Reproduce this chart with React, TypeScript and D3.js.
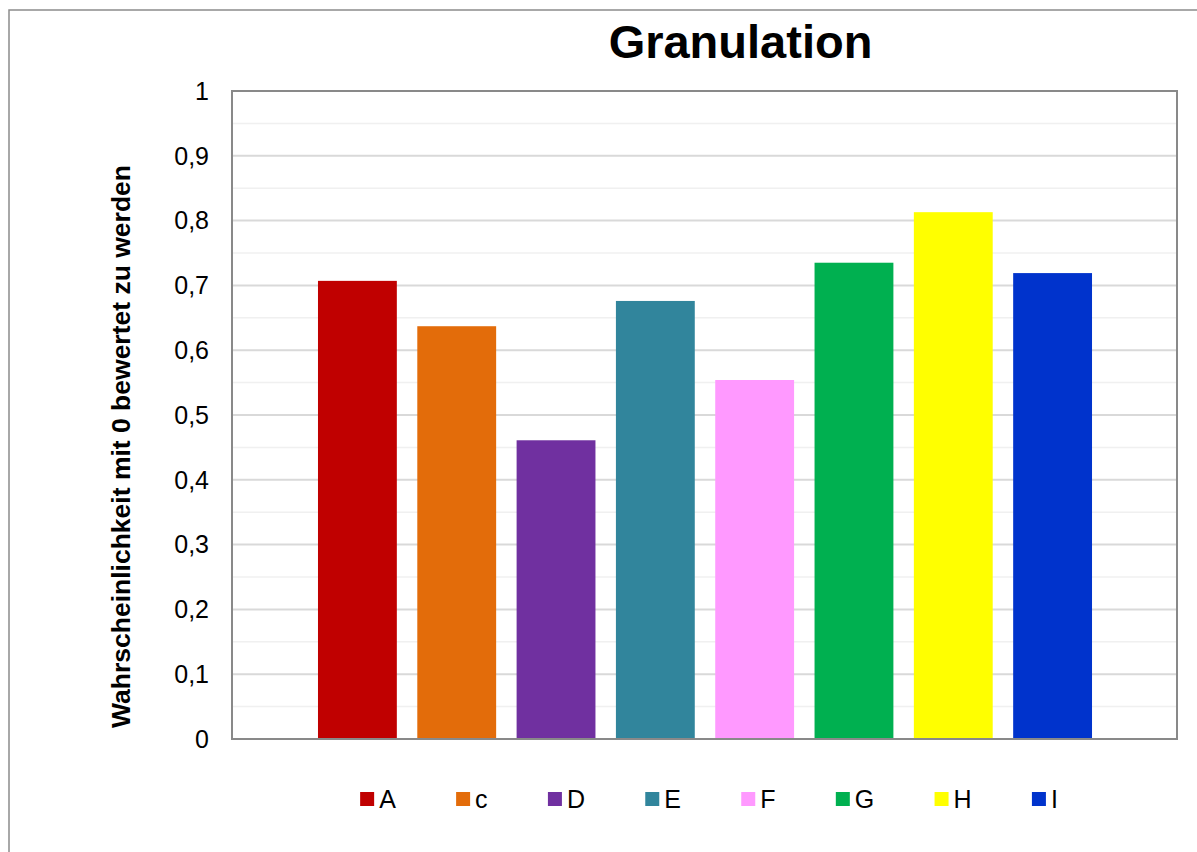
import React from "react";
import * as d3 from "d3";

const categories = ["A", "c", "D", "E", "F", "G", "H", "I"];
const values = [0.707, 0.637, 0.461, 0.676, 0.554, 0.735, 0.813, 0.719];
const colors = ["#C00000", "#E36C0A", "#7030A0", "#31859C", "#FF99FF", "#00B050", "#FFFF00", "#0033CC"];
const yTicks = [0, 0.1, 0.2, 0.3, 0.4, 0.5, 0.6, 0.7, 0.8, 0.9, 1];
const yMinorTicks = [0.05, 0.15, 0.25, 0.35, 0.45, 0.55, 0.65, 0.75, 0.85, 0.95];
const title = "Granulation";
const yTitle = "Wahrscheinlichkeit mit 0 bewertet zu werden";

const W = 1197;
const H = 852;
const plot = { left: 232, top: 91, right: 1177, bottom: 739 };
const FONT = "'Liberation Sans', Arial, Helvetica, sans-serif";

const deLocale = d3.formatLocale({ decimal: ",", thousands: ".", grouping: [3], currency: ["", " €"] });
const fmt = deLocale.format("~g");

function measure(text: string, font: string): number {
  if (typeof document === "undefined") return text.length * 14;
  const c = document.createElement("canvas");
  const ctx = c.getContext("2d");
  if (!ctx) return text.length * 14;
  ctx.font = font;
  return ctx.measureText(text).width;
}

export default function App() {
  const y = d3.scaleLinear().domain([0, 1]).range([plot.bottom, plot.top]);
  const x = d3
    .scaleBand<string>()
    .domain(categories)
    .range([307.75, 1102.25])
    .paddingInner(0.206)
    .paddingOuter(0.103);

  // legend layout
  const legendFont = `25px ${FONT}`;
  const sq = 14;
  const gapText = 5;
  const entrySpacing = 79.3;
  const widths = categories.map((c) => measure(c, legendFont));
  const starts: number[] = [];
  let acc = 0;
  widths.forEach((w) => {
    starts.push(acc);
    acc += w + entrySpacing;
  });
  const totalW = acc - entrySpacing + sq + gapText;
  const legendX0 = 709 - totalW / 2;
  const legendY = 799;

  return (
    <svg
      width={W}
      height={H}
      style={{ position: "absolute", left: 0, top: 0, background: "#fff" }}
      fontFamily={FONT}
    >
      <rect x={0} y={0} width={W} height={H} fill="#fff" />
      <rect x={9} y={10} width={W + 20} height={H + 20} fill="none" stroke="#8c8c8c" strokeWidth={1.5} />

      {/* minor gridlines */}
      {yMinorTicks.map((t) => (
        <line key={"m" + t} x1={plot.left} x2={plot.right} y1={y(t)} y2={y(t)} stroke="#f0f0f0" strokeWidth={1.5} />
      ))}
      {/* major gridlines */}
      {yTicks.map((t) => (
        <line key={"g" + t} x1={plot.left} x2={plot.right} y1={y(t)} y2={y(t)} stroke="#d9d9d9" strokeWidth={2} />
      ))}

      {/* bars */}
      {categories.map((c, i) => (
        <rect
          key={c}
          x={x(c)}
          y={y(values[i])}
          width={x.bandwidth()}
          height={y(0) - y(values[i])}
          fill={colors[i]}
        />
      ))}

      {/* plot border */}
      <rect
        x={plot.left}
        y={plot.top}
        width={plot.right - plot.left}
        height={plot.bottom - plot.top}
        fill="none"
        stroke="#898989"
        strokeWidth={2}
      />

      {/* y tick labels */}
      {yTicks.map((t) => (
        <text key={"t" + t} x={209} y={y(t)} dy="0.35em" textAnchor="end" fontSize={25} fill="#000">
          {fmt(t)}
        </text>
      ))}

      {/* title */}
      <text x={740.5} y={58} textAnchor="middle" fontSize={47} fontWeight="bold" fill="#000">
        {title}
      </text>

      {/* y axis title */}
      <text
        transform={`translate(130, ${(163 + 730) / 2}) rotate(-90)`}
        textAnchor="middle"
        fontSize={26.5}
        fontWeight="bold"
        fill="#000"
      >
        {yTitle}
      </text>

      {/* legend */}
      {categories.map((c, i) => {
        const lx = legendX0 + starts[i];
        return (
          <g key={"l" + c}>
            <rect x={lx} y={legendY - sq / 2} width={sq} height={sq} fill={colors[i]} />
            <text x={lx + sq + gapText} y={legendY} dy="0.35em" fontSize={25} fill="#000">
              {c}
            </text>
          </g>
        );
      })}
    </svg>
  );
}
